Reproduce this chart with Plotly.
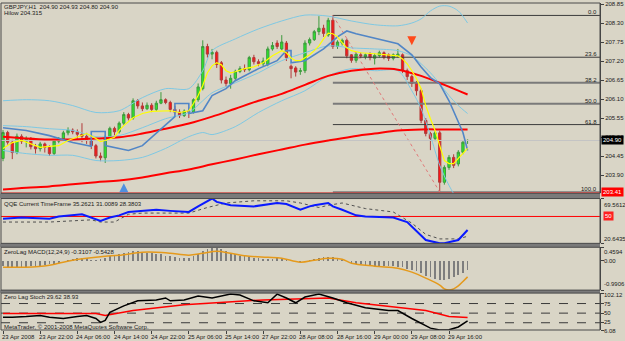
import plotly.graph_objects as go

# ---------------- data ----------------
BAR = list(range(101))
OPEN = [204.38, 205.13, 204.85, 204.55, 205.02, 204.88, 204.96, 204.72, 204.66, 204.80,
        204.70, 204.52, 204.88, 204.95, 205.12, 205.20, 205.15, 205.08, 205.02, 204.90,
        204.75, 204.45, 204.40, 205.00, 205.25, 205.15, 205.40, 205.65, 205.55, 206.05,
        205.90, 205.82, 205.92, 205.80, 205.98, 206.08, 206.00, 205.80, 205.72, 205.62,
        205.75, 205.72, 206.08, 206.40, 207.62, 207.40, 207.45, 207.15, 206.65, 206.55,
        206.70, 206.90, 206.98, 206.95, 207.30, 207.18, 207.12, 207.10, 207.55, 207.72,
        207.55, 207.72, 207.05, 207.00, 206.90, 206.92, 207.72, 207.82, 208.05, 208.15,
        207.95, 208.38, 207.62, 207.72, 207.80, 207.38, 207.22, 207.38, 207.32, 207.40,
        207.28, 207.36, 207.44, 207.38, 207.28, 207.35, 207.38, 206.92, 206.75, 206.55,
        206.34, 205.48, 205.10, 204.96, 205.12, 203.69, 204.12, 204.41, 204.22, 204.56,
        204.90]
HIGH = [205.20, 205.18, 204.92, 205.10, 205.08, 205.02, 205.00, 204.80, 204.86, 204.84,
        204.76, 204.94, 205.00, 205.18, 205.28, 205.25, 205.22, 205.40, 205.12, 204.98,
        204.80, 204.55, 205.05, 205.30, 205.30, 205.45, 205.72, 205.70, 206.12, 206.10,
        206.00, 206.00, 205.98, 206.05, 206.30, 206.12, 206.05, 205.90, 205.80, 205.80,
        205.85, 206.12, 206.55, 207.80, 207.70, 207.55, 207.50, 207.20, 206.75, 206.80,
        206.95, 207.05, 207.10, 207.35, 207.38, 207.25, 207.30, 207.62, 207.75, 207.80,
        207.95, 207.78, 207.10, 207.05, 207.00, 207.80, 207.88, 208.10, 208.50, 208.25,
        208.45, 208.52, 207.80, 207.85, 207.85, 207.40, 207.45, 207.45, 207.42, 207.45,
        207.42, 207.50, 207.48, 207.42, 207.42, 207.55, 207.42, 206.98, 206.80, 206.62,
        206.40, 205.55, 205.15, 205.18, 205.18, 204.18, 204.48, 204.50, 204.62, 204.88,
        204.93]
LOW = [204.30, 204.78, 204.36, 204.50, 204.80, 204.70, 204.64, 204.52, 204.58, 204.55,
       204.45, 204.48, 204.82, 204.90, 205.05, 205.08, 204.95, 204.85, 204.80, 204.65,
       204.38, 204.30, 204.25, 204.95, 205.05, 205.10, 205.35, 205.48, 205.50, 205.82,
       205.75, 205.78, 205.72, 205.75, 205.95, 205.95, 205.72, 205.65, 205.55, 205.58,
       205.55, 205.68, 206.02, 206.35, 207.30, 207.25, 207.00, 206.55, 206.45, 206.40,
       206.62, 206.85, 206.88, 206.90, 207.10, 207.05, 207.05, 207.05, 207.50, 207.55,
       207.50, 207.20, 206.70, 206.75, 206.80, 206.85, 207.65, 207.78, 207.95, 207.90,
       207.90, 207.55, 207.55, 207.65, 207.28, 207.15, 207.15, 207.28, 207.25, 207.22,
       207.10, 207.30, 207.25, 207.20, 207.22, 207.30, 206.85, 206.65, 206.45, 206.20,
       205.40, 205.02, 204.62, 204.88, 203.41, 203.62, 204.05, 204.10, 204.15, 204.50,
       204.80]
CLOSE = [205.13, 204.85, 204.55, 205.02, 204.88, 204.96, 204.72, 204.66, 204.80, 204.70,
         204.52, 204.88, 204.95, 205.12, 205.20, 205.15, 205.08, 205.02, 204.90, 204.75,
         204.45, 204.40, 205.00, 205.25, 205.15, 205.40, 205.65, 205.55, 206.05, 205.90,
         205.82, 205.92, 205.80, 205.98, 206.08, 206.00, 205.80, 205.72, 205.62, 205.75,
         205.72, 206.08, 206.45, 207.62, 207.40, 207.45, 207.10, 206.65, 206.55, 206.70,
         206.90, 206.98, 206.95, 207.30, 207.18, 207.12, 207.20, 207.55, 207.65, 207.62,
         207.75, 207.30, 206.98, 206.88, 206.92, 207.72, 207.82, 208.05, 208.15, 208.00,
         208.38, 207.62, 207.75, 207.80, 207.35, 207.22, 207.40, 207.35, 207.38, 207.30,
         207.36, 207.44, 207.30, 207.28, 207.38, 207.40, 206.92, 206.75, 206.55, 206.34,
         205.48, 205.10, 204.96, 205.12, 203.69, 204.12, 204.41, 204.18, 204.56, 204.85,
         204.90]

TICK_BARS = [0, 8, 16, 24, 32, 40, 48, 56, 64, 72, 80, 88, 96]
TICK_TEXT = ["23 Apr 2008", "23 Apr 22:00", "24 Apr 06:00", "24 Apr 14:00", "24 Apr 22:00",
             "25 Apr 06:00", "25 Apr 14:00", "27 Apr 22:00", "28 Apr 08:00", "28 Apr 16:00",
             "29 Apr 00:00", "29 Apr 08:00", "29 Apr 16:00"]

PRICE_TICKS = [208.85, 208.30, 207.75, 207.20, 206.65, 206.10, 205.55, 205.00, 204.45, 203.90]

MA_X = [0, 5, 10, 15, 20, 25, 30, 35, 40, 45, 50, 55, 60, 65, 70, 75, 80, 85, 90, 95, 100]
RED_A = [205.01, 204.96, 204.93, 204.93, 204.96, 204.99, 205.10, 205.24, 205.39, 205.59, 205.82,
         206.05, 206.25, 206.51, 206.77, 206.92, 206.98, 206.95, 206.77, 206.51, 206.23]
RED_B = [203.48, 203.53, 203.57, 203.63, 203.69, 203.74, 203.83, 203.95, 204.06, 204.21, 204.35,
         204.50, 204.64, 204.78, 204.90, 205.01, 205.10, 205.19, 205.22, 205.22, 205.22]

YEL_X = [0, 2, 4, 6, 8, 10, 12, 14, 16, 18, 20, 21, 22, 24, 25, 26, 28, 30, 32, 34,
         36, 38, 40, 41, 42, 43, 44, 45, 46, 47, 48, 49, 50, 52, 54, 56, 58, 60, 61, 62,
         63, 64, 65, 66, 67, 68, 69, 70, 71, 72, 73, 74, 75, 77, 80, 83, 85, 86, 87, 88,
         89, 90, 91, 92, 93, 94, 95, 96, 97, 98, 99, 100]
YEL_Y = [204.67, 204.84, 204.90, 204.81, 204.70, 204.73, 204.75, 204.90, 205.01, 205.10,
         204.96, 204.87, 204.90, 204.99, 205.19, 205.33, 205.56, 205.68, 205.74, 205.76,
         205.76, 205.71, 205.76, 205.97, 206.20, 206.49, 206.86, 207.06, 207.15, 207.09,
         206.92, 206.86, 206.89, 206.98, 207.03, 207.15, 207.35, 207.50, 207.44, 207.29,
         207.21, 207.21, 207.29, 207.38, 207.50, 207.64, 207.84, 208.01, 207.99, 207.90,
         207.73, 207.58, 207.50, 207.44, 207.41, 207.38, 207.35, 207.26, 207.12, 206.92,
         206.69, 206.40, 205.91, 205.53, 205.19, 204.75, 204.32, 204.23, 204.23, 204.38,
         204.52, 204.67]

BLU_X = [0, 5, 10, 15, 19, 19, 22, 22, 25, 27, 30, 33, 35, 37, 37, 40, 40, 43, 45, 48,
         50, 55, 59, 61, 62, 62, 65, 69, 72, 74, 76, 80, 85, 88, 90, 92, 94, 96, 98, 99, 100]
BLU_Y = [205.27, 205.19, 205.04, 204.84, 204.73, 205.16, 205.16, 204.75, 204.67, 204.61,
         204.75, 205.10, 205.36, 205.59, 205.97, 205.97, 205.68, 205.76, 206.20, 206.40,
         206.63, 206.98, 207.21, 207.50, 207.50, 207.15, 207.21, 207.55, 207.90, 208.07,
         207.99, 207.87, 207.70, 207.38, 207.03, 206.72, 206.54, 206.05, 205.42, 205.13, 204.61]

BB_X = [0, 5, 10, 15, 20, 25, 30, 35, 40, 43, 45, 50, 55, 60, 65, 70, 75, 80, 85, 88,
        90, 92, 94, 96, 98, 100]
BB_UP = [206.05, 206.08, 206.05, 205.91, 205.71, 205.76, 206.14, 206.40, 206.40, 206.92,
         207.50, 207.84, 208.13, 208.36, 208.53, 208.50, 208.36, 208.25, 208.22, 208.30,
         208.42, 208.65, 208.79, 208.79, 208.65, 208.30]
BB_MID = [205.33, 205.30, 205.24, 205.19, 205.01, 205.04, 205.27, 205.53, 205.71, 206.05,
          206.28, 206.57, 206.86, 207.21, 207.44, 207.64, 207.58, 207.55, 207.50, 207.35,
          207.12, 206.86, 206.54, 206.20, 205.91, 205.68]
BB_LO = [204.61, 204.52, 204.47, 204.47, 204.32, 204.32, 204.41, 204.67, 205.01, 205.13,
         205.07, 205.30, 205.71, 206.05, 206.34, 206.77, 206.98, 206.92, 206.92, 206.34,
         205.82, 205.04, 204.18, 203.60, 203.17, 203.02]

FIB_TEXT = ["0.0", "23.6", "38.2", "50.0", "61.8", "100.0"]
FIB_PRICE = [208.52, 207.31, 206.57, 205.965, 205.36, 203.41]
FIB_START_BAR = 71
FIB_DIAG_BARS = [71, 94]
FIB_DIAG_PRICES = [208.52, 203.41]
BID_PRICE = 204.90
LOW_LINE_PRICE = 203.41
ARROW_DN_BAR = [88]
ARROW_DN_PRICE = [207.66]
ARROW_UP_BAR = [26]
ARROW_UP_PRICE = [203.66]
HILOW_VALUE = "204.315"

QQE_TITLE_VALUES = ["35.2621", "31.0089", "28.3803"]
QQE_BLUE_X = [0, 4, 10, 12, 17, 19, 21, 23, 25, 27, 30, 33, 36, 40, 42, 44, 45, 46, 49, 54,
              59, 61, 64, 66, 67, 70, 71, 73, 76, 78, 84, 87, 89, 91, 94, 95, 98, 100]
QQE_BLUE_Y = [47.6, 48.8, 47.6, 50.0, 52.4, 48.8, 45.1, 48.8, 51.2, 54.9, 56.1, 57.3, 56.1,
              54.9, 61.0, 67.1, 69.56, 65.9, 62.2, 61.0, 64.7, 63.5, 57.3, 61.0, 62.2, 64.7,
              61.0, 57.3, 51.2, 50.0, 48.8, 43.9, 34.1, 24.3, 20.64, 20.8, 24.3, 35.26]
QQE_GRAY_X = [0, 10, 19, 21, 24, 27, 30, 40, 44, 48, 54, 61, 64, 68, 70, 73, 78, 84, 88, 91,
              94, 98, 100]
QQE_GRAY_Y = [43.9, 43.9, 46.3, 43.9, 43.9, 52.4, 53.7, 53.7, 59.8, 64.7, 67.1, 67.1, 64.7,
              59.8, 62.2, 64.7, 58.6, 54.9, 42.7, 30.4, 25.5, 25.5, 28.38]
QQE_LEVEL = 50
QQE_MAX, QQE_MIN = 69.5612, 20.6435

MACD_TITLE_VALUES = ["-0.3107", "-0.5428"]
MACD_HIST = [-0.18, -0.20, -0.22, -0.22, -0.20, -0.20, -0.18, -0.18, -0.16, -0.15, -0.12, -0.10, -0.06,
             -0.02, 0.02, 0.05, 0.08, 0.10, 0.08, 0.04, 0.02,
             0.05, 0.10, 0.15, 0.18,
             0.22, 0.26, 0.30, 0.33, 0.32, 0.30, 0.28, 0.26, 0.24, 0.22,
             0.18, 0.15, 0.12, 0.10, 0.08, 0.10, 0.15, 0.22,
             0.32, 0.40, 0.45, 0.44, 0.40, 0.34, 0.28, 0.22,
             0.18, 0.15, 0.12, 0.10, 0.08, 0.06, 0.05, 0.06, 0.08, 0.07,
             0.04, 0.00, -0.04, -0.05, -0.02, 0.02, 0.06, 0.10, 0.12, 0.14,
             0.12, 0.08, 0.04, -0.02, -0.06, -0.10, -0.12, -0.14, -0.15, -0.16,
             -0.17, -0.18, -0.18, -0.19, -0.20, -0.22, -0.26, -0.30, -0.36, -0.42,
             -0.50, -0.56, -0.60, -0.64, -0.65, -0.62, -0.56, -0.48, -0.40, -0.3107]
MACD_SIG_X = [0, 5, 10, 12, 15, 18, 22, 25, 30, 33, 36, 40, 43, 46, 49, 53, 57, 60, 64, 67,
              70, 73, 75, 80, 85, 88, 91, 94, 95, 96, 97, 98, 99, 100]
MACD_SIG_Y = [-0.215, -0.215, -0.147, -0.080, 0.021, 0.089, 0.156, 0.190, 0.291, 0.291,
              0.257, 0.190, 0.257, 0.324, 0.257, 0.156, 0.122, 0.089, -0.046, 0.021,
              0.089, 0.055, -0.080, -0.181, -0.248, -0.383, -0.585, -0.822, -0.95, -0.9906,
              -0.95, -0.85, -0.70, -0.5428]
MACD_MAX, MACD_MIN = 0.4594, -0.9906

STO_TITLE_VALUES = ["29.62", "38.93"]
STO_K_X = [0, 2, 5, 8, 10, 13, 16, 18, 20, 21, 22, 23, 26, 29, 33, 35, 36, 39, 42, 45,
           49, 51, 54, 57, 59, 61, 63, 65, 68, 71, 74, 78, 83, 85, 88, 92, 94, 96, 98, 100]
STO_K_Y = [39, 39, 41, 44, 39, 36, 41, 44, 36, 26, 31, 52, 69, 82, 84, 89.5, 82, 84, 94.5, 89.5,
           99.6, 97, 82, 77, 99.6, 89.5, 77, 92, 99.6, 89.5, 77, 64, 56.6, 56.6, 36, 11, 6.1, 6.5, 14, 29.62]
STO_D_X = [0, 10, 20, 22, 28, 39, 49, 56, 63, 70, 76, 85, 91, 96, 100]
STO_D_Y = [49, 49, 49, 44, 56.6, 71.8, 79.4, 84.4, 87, 89.5, 77, 64, 56.6, 41.5, 38.93]
STO_LEVELS = [75, 50, 25]
STO_MAX, STO_MIN = 102.12, 6.08

# ---------------- styling ----------------
BG = '#D9D5C6'
FONT = 'Liberation Sans, Arial, sans-serif'
FS = 6
TXT = '#1A1A1A'
XR = [-0.43, 128.5]
DOM_MAIN = [0.418, 1.0]
DOM_QQE = [0.265, 0.402]
DOM_MACD = [0.122, 0.253]
DOM_STO = [0.0, 0.1128]

fig = go.Figure()

# fib levels (behind candles)
FIB_COLORS = ['#3C3C3C', '#3C3C3C', '#7A7A7A', '#7A7A7A', '#3C3C3C', '#7A7A7A']
FIB_WIDTHS = [1, 1, 2, 2, 1, 1.5]
for p, c, w in zip(FIB_PRICE, FIB_COLORS, FIB_WIDTHS):
    fig.add_trace(go.Scatter(x=[FIB_START_BAR, XR[1]], y=[p, p], mode='lines',
                             line=dict(color=c, width=w), xaxis='x', yaxis='y'))
fig.add_trace(go.Scatter(x=FIB_DIAG_BARS, y=FIB_DIAG_PRICES, mode='lines',
                         line=dict(color='#E07878', width=1, dash='dot'), xaxis='x', yaxis='y'))

# horizontal price lines
fig.add_trace(go.Scatter(x=[XR[0], XR[1]], y=[BID_PRICE, BID_PRICE], mode='lines',
                         line=dict(color='#C4C4C4', width=1), xaxis='x', yaxis='y'))
fig.add_trace(go.Scatter(x=[XR[0], XR[1]], y=[LOW_LINE_PRICE - 0.03, LOW_LINE_PRICE - 0.03], mode='lines',
                         line=dict(color='#FF2020', width=1), xaxis='x', yaxis='y'))

# MAs and bands
fig.add_trace(go.Scatter(x=MA_X, y=RED_B, mode='lines', line=dict(color='#FF0000', width=2, shape='spline'),
                         xaxis='x', yaxis='y'))
for band in (BB_UP, BB_MID, BB_LO):
    fig.add_trace(go.Scatter(x=BB_X, y=band, mode='lines',
                             line=dict(color='#7EC8E3', width=1, shape='spline', smoothing=0.8),
                             xaxis='x', yaxis='y'))

# candles
fig.add_trace(go.Candlestick(x=BAR, open=OPEN, high=HIGH, low=LOW, close=CLOSE,
                             increasing=dict(line=dict(color='#3E9A3E', width=1), fillcolor='#2BEA2B'),
                             decreasing=dict(line=dict(color='#B23A3A', width=1), fillcolor='#FF1414'),
                             whiskerwidth=0, xaxis='x', yaxis='y', hoverinfo='skip'))

fig.add_trace(go.Scatter(x=MA_X, y=RED_A, mode='lines', line=dict(color='#FF0000', width=2, shape='spline'),
                         xaxis='x', yaxis='y'))
fig.add_trace(go.Scatter(x=BLU_X, y=BLU_Y, mode='lines', line=dict(color='#5286C6', width=1.6),
                         xaxis='x', yaxis='y'))
fig.add_trace(go.Scatter(x=YEL_X, y=YEL_Y, mode='lines', line=dict(color='#FFFF00', width=1.2),
                         xaxis='x', yaxis='y'))

# signal arrows
fig.add_trace(go.Scatter(x=ARROW_DN_BAR, y=ARROW_DN_PRICE, mode='markers',
                         marker=dict(symbol='arrow-down', size=9, color='#FF4A1A'), xaxis='x', yaxis='y'))
fig.add_trace(go.Scatter(x=ARROW_UP_BAR, y=ARROW_UP_PRICE, mode='markers',
                         marker=dict(symbol='arrow-up', size=9, color='#4F8FE0'), xaxis='x', yaxis='y'))

# QQE
fig.add_trace(go.Scatter(x=[XR[0], XR[1]], y=[QQE_LEVEL, QQE_LEVEL], mode='lines',
                         line=dict(color='#FF0000', width=1), xaxis='x2', yaxis='y2'))
fig.add_trace(go.Scatter(x=QQE_GRAY_X, y=QQE_GRAY_Y, mode='lines',
                         line=dict(color='#505050', width=1, dash='dot'), xaxis='x2', yaxis='y2'))
fig.add_trace(go.Scatter(x=QQE_BLUE_X, y=QQE_BLUE_Y, mode='lines',
                         line=dict(color='#0A1AFF', width=2), xaxis='x2', yaxis='y2'))

# MACD
fig.add_trace(go.Bar(x=BAR, y=MACD_HIST, width=0.38, marker=dict(color='#7E7E7E', line=dict(width=0)),
                     xaxis='x3', yaxis='y3'))
fig.add_trace(go.Scatter(x=MACD_SIG_X, y=MACD_SIG_Y, mode='lines',
                         line=dict(color='#E59A1C', width=1.5, shape='spline'), xaxis='x3', yaxis='y3'))

# Stoch
for lv in STO_LEVELS:
    fig.add_trace(go.Scatter(x=[XR[0], XR[1]], y=[lv, lv], mode='lines',
                             line=dict(color='#3A3A3A', width=1, dash='dash'), xaxis='x4', yaxis='y4'))
fig.add_trace(go.Scatter(x=STO_D_X, y=STO_D_Y, mode='lines',
                         line=dict(color='#FF0000', width=1.5), xaxis='x4', yaxis='y4'))
fig.add_trace(go.Scatter(x=STO_K_X, y=STO_K_Y, mode='lines',
                         line=dict(color='#000000', width=1.5), xaxis='x4', yaxis='y4'))

# ---------------- layout ----------------
def xax(anchor, show_ticks=False):
    d = dict(domain=[0, 1], range=XR, anchor=anchor, showgrid=False, zeroline=False,
             showticklabels=False, fixedrange=True, showline=False)
    if show_ticks:
        d.update(tickvals=TICK_BARS, ticks='outside', ticklen=3, tickcolor='#404040')
    return d

def yax(dom, rng, anchor, tickvals=None, ticktext=None):
    d = dict(domain=dom, range=rng, anchor=anchor, side='right', showgrid=False, zeroline=False,
             showline=True, linecolor='#404040', linewidth=1, ticks='outside', ticklen=3,
             tickcolor='#404040', fixedrange=True,
             tickfont=dict(family=FONT, size=FS, color=TXT))
    if tickvals is not None:
        d.update(tickvals=tickvals, ticktext=ticktext)
    return d

fig.update_layout(
    width=625, height=341,
    margin=dict(l=1, r=22, t=2, b=11),
    paper_bgcolor=BG, plot_bgcolor=BG,
    showlegend=False, hovermode=False, bargap=0,
    font=dict(family=FONT, size=FS, color=TXT),
    xaxis=dict(xax('y'), rangeslider=dict(visible=False)),
    xaxis2=xax('y2'), xaxis3=xax('y3'), xaxis4=xax('y4', True),
    yaxis=yax(DOM_MAIN, [203.37, 208.88], 'x', PRICE_TICKS, [f"{v:.2f}" for v in PRICE_TICKS]),
    yaxis2=yax(DOM_QQE, [QQE_MIN, QQE_MAX], 'x2', [QQE_MAX, QQE_MIN], ['', '']),
    yaxis3=yax(DOM_MACD, [MACD_MIN, MACD_MAX], 'x3', [MACD_MAX, 0, MACD_MIN], ['', '', '']),
    yaxis4=yax(DOM_STO, [STO_MIN, STO_MAX], 'x4', [STO_MAX] + STO_LEVELS + [STO_MIN], [''] * 5),
)

shapes = []
for y0, y1 in [(DOM_QQE[1], DOM_MAIN[0]), (DOM_MACD[1], DOM_QQE[0]), (DOM_STO[1], DOM_MACD[0])]:
    shapes.append(dict(type='rect', xref='paper', yref='paper', x0=-0.01, x1=1.0, y0=y0, y1=y1,
                       fillcolor='#7A7A7A', line=dict(width=0), layer='above'))
for dom in (DOM_MAIN, DOM_QQE, DOM_MACD, DOM_STO):
    shapes.append(dict(type='rect', xref='paper', yref='paper', x0=0, x1=1, y0=dom[0], y1=dom[1],
                       line=dict(color='#4A4A4A', width=1), fillcolor='rgba(0,0,0,0)', layer='above'))
fig.update_layout(shapes=shapes)

ann = []
def txt(x, y, s, xref='paper', yref='paper', xanchor='left', yanchor='middle', color=TXT,
        bg=None, xshift=0, yshift=0):
    d = dict(x=x, y=y, xref=xref, yref=yref, text=s, showarrow=False, xanchor=xanchor,
             yanchor=yanchor, font=dict(family=FONT, size=FS, color=color),
             borderpad=0, xshift=xshift, yshift=yshift)
    if bg:
        d.update(bgcolor=bg, borderpad=1)
    return d

ann.append(txt(0.004, 0.9878, f"GBPJPY,H1  {OPEN[-1]:.2f} {HIGH[-1]:.2f} {LOW[-1]:.2f} {CLOSE[-1]:.2f}"))
ann.append(txt(0.004, 0.968, f"Hilow {HILOW_VALUE}"))
for t, p in zip(FIB_TEXT, FIB_PRICE):
    ann.append(txt(0.996, p, t, yref='y', xanchor='right', yanchor='bottom', yshift=-1))
ann.append(txt(1.0, BID_PRICE, f"{BID_PRICE:.2f}", yref='y', color='white', bg='#000000', xshift=1))
ann.append(txt(1.0, LOW_LINE_PRICE, f"{LOW_LINE_PRICE:.2f}", yref='y', color='white', bg='#FF0000', xshift=1))

ann.append(txt(0.004, 0.384, "QQE Current TimeFrame " + " ".join(QQE_TITLE_VALUES)))
ann.append(txt(1.0, QQE_MAX, f"{QQE_MAX}", yref='y2', yanchor='top', xshift=3, yshift=-2))
ann.append(txt(1.0, QQE_MIN, f"{QQE_MIN}", yref='y2', yanchor='bottom', xshift=3))
ann.append(txt(1.0, QQE_LEVEL, f"{QQE_LEVEL}", yref='y2', color='white', bg='#FF2020', xshift=3))

ann.append(txt(0.004, 0.2393, "ZeroLag MACD(12,24,9) " + " ".join(MACD_TITLE_VALUES)))
ann.append(txt(1.0, MACD_MAX, f"{MACD_MAX}", yref='y3', yanchor='top', xshift=3, yshift=-1))
ann.append(txt(1.0, 0, "0.00", yref='y3', xshift=3))
ann.append(txt(1.0, MACD_MIN, f"{MACD_MIN}", yref='y3', yanchor='bottom', xshift=3, yshift=2))

ann.append(txt(0.004, 0.1006, "Zero Lag Stoch " + " ".join(STO_TITLE_VALUES)))
ann.append(txt(1.0, STO_MAX, f"{STO_MAX:.2f}", yref='y4', yanchor='top', xshift=3, yshift=2))
for lv in STO_LEVELS:
    ann.append(txt(1.0, lv, f"{lv}", yref='y4', xshift=3, yshift=1 if lv == 25 else 0))
ann.append(txt(1.0, STO_MIN, f"{STO_MIN:.2f}", yref='y4', yanchor='middle', xshift=3, yshift=-1))
ann.append(txt(0.004, 0.009, "MetaTrader, \u00a9 2001-2008 MetaQuotes Software Corp."))

for b, t in zip(TICK_BARS, TICK_TEXT):
    ann.append(txt(b, -0.022, t, xref='x4', xanchor='left', xshift=-2))

fig.update_layout(annotations=ann)

fig.write_html("out.html", config={'displayModeBar': False, 'staticPlot': True})
